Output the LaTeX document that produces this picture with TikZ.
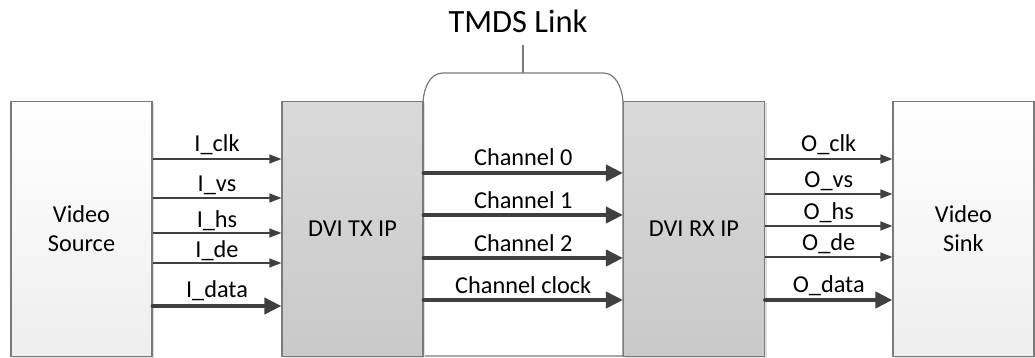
\documentclass[tikz,border=0pt]{standalone}
\usepackage{fontspec}
\setmainfont{Carlito}
\usetikzlibrary{arrows.meta,shadows}
\definecolor{arr}{HTML}{404040}
\definecolor{bord}{HTML}{7A7A7A}
\definecolor{ipTop}{HTML}{D9D9D9}
\definecolor{ipBot}{HTML}{C9C9C9}
\definecolor{vTop}{HTML}{FFFFFF}
\definecolor{vBot}{HTML}{EEEEEE}
\tikzset{
  blk/.style={draw=bord, line width=1.2pt, minimum width=141pt, minimum height=255pt,
    inner sep=0pt, align=center, font=\fontsize{24.3}{29}\selectfont,
    drop shadow={shadow xshift=2pt, shadow yshift=-2pt, fill=black!12, opacity=1}},
  vidbox/.style={blk, top color=vTop, bottom color=vBot},
  ipbox/.style={blk, top color=ipTop, bottom color=ipBot},
  thinarr/.style={draw=arr, line width=1.3pt, -{Triangle[length=12pt,width=9pt]}},
  thickarr/.style={draw=arr, line width=4pt, line cap=round, -{Triangle[length=17pt,width=16pt]}},
  lbl/.style={font=\fontsize{24.3}{29}\selectfont, anchor=base, inner sep=0pt, text=black},
}
\begin{document}
\begin{tikzpicture}[x=1pt,y=-1pt]
\useasboundingbox (0,0) rectangle (1035,358);
% TMDS link shape
\path[draw=bord, line width=1.2pt, fill=white]
  (423,102) .. controls (424,86) and (431,73) .. (443,73) -- (603,73)
  .. controls (615,73) and (622,86) .. (623,102) -- (623,356) -- (423,356) -- cycle;
\node[vidbox] (src) at (81.5,229) {Video\\Source};
\node[ipbox] (tx) at (352.5,229) {DVI TX IP};
\node[ipbox] (rx) at (694,229) {DVI RX IP};
\node[vidbox] (sink) at (963.5,229) {Video\\Sink};
% TMDS link label
\node[font=\fontsize{32.5}{38}\selectfont, inner sep=0pt, anchor=base] (tmds) at (518,33) {TMDS Link};
\coordinate (tmdstop) at (523,45);
\coordinate (tmdsbot) at (523,73);
\draw[draw=bord, line width=1.2pt] (tmdstop) -- (tmdsbot);
% inputs
\draw[thinarr] (src.east |- 0,159) -- node[lbl, midway, yshift=7pt] {I\_clk} (tx.west |- 0,159);
\draw[thinarr] (src.east |- 0,198) -- node[lbl, midway, yshift=6pt] {I\_vs} (tx.west |- 0,198);
\draw[thinarr] (src.east |- 0,233) -- node[lbl, midway, yshift=6pt] {I\_hs} (tx.west |- 0,233);
\draw[thinarr] (src.east |- 0,263) -- node[lbl, midway, yshift=6pt] {I\_de} (tx.west |- 0,263);
\draw[thickarr] (src.east |- 0,306) -- node[lbl, midway, yshift=9pt] {I\_data} (tx.west |- 0,306);
% channels
\draw[thickarr] (tx.east |- 0,173) -- node[lbl, midway, yshift=7pt] {Channel 0} (rx.west |- 0,173);
\draw[thickarr] (tx.east |- 0,215) -- node[lbl, midway, yshift=7pt] {Channel 1} (rx.west |- 0,215);
\draw[thickarr] (tx.east |- 0,258) -- node[lbl, midway, yshift=7pt] {Channel 2} (rx.west |- 0,258);
\draw[thickarr] (tx.east |- 0,300) -- node[lbl, midway, yshift=7pt] {Channel clock} (rx.west |- 0,300);
% outputs
\draw[thinarr] (rx.east |- 0,159) -- node[lbl, midway, yshift=7pt] {O\_clk} (sink.west |- 0,159);
\draw[thinarr] (rx.east |- 0,194) -- node[lbl, midway, yshift=7pt] {O\_vs} (sink.west |- 0,194);
\draw[thinarr] (rx.east |- 0,226) -- node[lbl, midway, yshift=7pt] {O\_hs} (sink.west |- 0,226);
\draw[thinarr] (rx.east |- 0,257) -- node[lbl, midway, yshift=7pt] {O\_de} (sink.west |- 0,257);
\draw[thickarr] (rx.east |- 0,300) -- node[lbl, midway, yshift=8pt] {O\_data} (sink.west |- 0,300);
\end{tikzpicture}
\end{document}
